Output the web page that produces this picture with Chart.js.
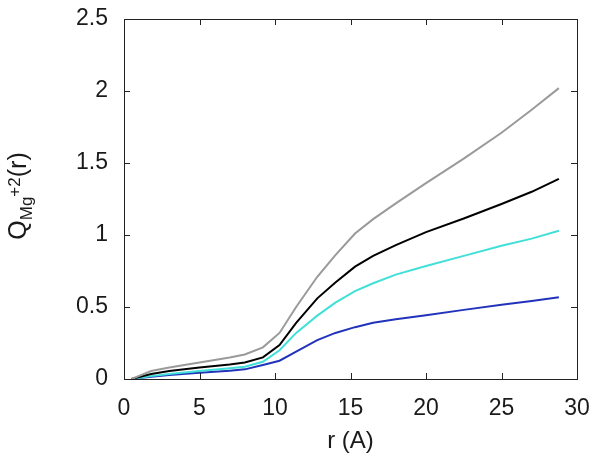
<!DOCTYPE html>
<html>
<head>
<meta charset="utf-8">
<script src="https://cdn.jsdelivr.net/npm/chart.js@4"></script>
<style>
  html, body { margin: 0; padding: 0; background: #fff; }
  #wrap { width: 600px; height: 463px; position: relative; }
</style>
</head>
<body>
<div id="wrap"><canvas id="chargeChart"></canvas></div>
<script>
// r values (Angstrom) shared by all curves
var rValues = [0.5, 1.8, 3, 5, 7, 8, 9.2, 10.3, 11.4, 12.8, 14, 15.3, 16.5, 18, 20, 22.5, 25, 27, 28.8];

// integrated charge curves
var grayQ  = [0, 0.055, 0.08, 0.115, 0.15, 0.17, 0.22, 0.32, 0.50, 0.71, 0.86, 1.01, 1.11, 1.22, 1.36, 1.53, 1.71, 1.87, 2.02];
var blackQ = [0, 0.035, 0.055, 0.08, 0.10, 0.115, 0.15, 0.236, 0.39, 0.56, 0.67, 0.78, 0.855, 0.93, 1.02, 1.115, 1.215, 1.30, 1.39];
var cyanQ  = [0, 0.02, 0.035, 0.055, 0.075, 0.085, 0.12, 0.20, 0.32, 0.44, 0.53, 0.61, 0.665, 0.725, 0.785, 0.855, 0.925, 0.975, 1.03];
var blueQ  = [0, 0.016, 0.028, 0.044, 0.058, 0.067, 0.097, 0.127, 0.19, 0.27, 0.32, 0.36, 0.39, 0.415, 0.443, 0.48, 0.515, 0.542, 0.567];

var xTicks = [0, 5, 10, 15, 20, 25, 30];
var yTicks = [0, 0.5, 1, 1.5, 2, 2.5];

var fontFamily = '"Liberation Sans", Arial, sans-serif';
var textColor = '#1a1a1a';

function toPoints(ys) {
    var pts = [];
    for (var i = 0; i < rValues.length; i++) {
        pts.push({x: rValues[i], y: ys[i]});
    }
    return pts;
}

function lineSet(ys, color) {
    return {
        data: toPoints(ys),
        borderColor: color,
        borderWidth: 2,
        pointRadius: 0,
        fill: false,
        tension: 0
    };
}

// gnuplot style frame with inward ticks + the y title with sub/superscript
var framePlugin = {
    id: 'frame',
    afterDraw: function(chart) {
        var ctx = chart.ctx;
        var a = chart.chartArea;
        var xs = chart.scales.x, ys = chart.scales.y;
        var tl = 6;
        ctx.save();
        ctx.strokeStyle = '#222';
        ctx.lineWidth = 1;
        ctx.strokeRect(a.left + 0.5, a.top + 0.5, a.right - a.left, a.bottom - a.top);
        ctx.beginPath();
        xTicks.forEach(function(v) {
            var px = Math.round(xs.getPixelForValue(v)) + 0.5;
            ctx.moveTo(px, a.bottom); ctx.lineTo(px, a.bottom - tl);
            ctx.moveTo(px, a.top); ctx.lineTo(px, a.top + tl);
        });
        yTicks.forEach(function(v) {
            var py = Math.round(ys.getPixelForValue(v)) + 0.5;
            ctx.moveTo(a.left, py); ctx.lineTo(a.left + tl, py);
            ctx.moveTo(a.right, py); ctx.lineTo(a.right - tl, py);
        });
        ctx.stroke();

        // y axis title: Q_{Mg}^{+2}(r)
        var big = '25px ' + fontFamily;
        var small = '17px ' + fontFamily;
        ctx.fillStyle = textColor;
        ctx.textBaseline = 'alphabetic';
        ctx.textAlign = 'left';
        ctx.font = big;  var wQ = ctx.measureText('Q').width;
        var wP = ctx.measureText('(r)').width;
        ctx.font = small; var wSub = ctx.measureText('Mg').width;
        var wSup = ctx.measureText('+2').width;
        var total = wQ + wSub + wSup + wP;
        ctx.translate(26, 196);
        ctx.rotate(-Math.PI / 2);
        var x0 = -total / 2;
        ctx.font = big; ctx.fillText('Q', x0, 0);
        ctx.font = small;
        ctx.fillText('Mg', x0 + wQ, 6);
        ctx.fillText('+2', x0 + wQ + wSub, -6);
        ctx.font = big; ctx.fillText('(r)', x0 + wQ + wSub + wSup, 0);
        ctx.restore();
    }
};

var ctx = document.getElementById('chargeChart').getContext('2d');
var chargeChart = new Chart(ctx, {
    type: 'line',
    data: {
        datasets: [
            lineSet(grayQ, '#9a9a9a'),
            lineSet(blackQ, '#000000'),
            lineSet(cyanQ, '#40e0d8'),
            lineSet(blueQ, '#2233bb')
        ]
    },
    options: {
        responsive: true,
        maintainAspectRatio: false,
        animation: false,
        layout: { padding: { top: 19, right: 23, left: 0, bottom: 0 } },
        plugins: {
            legend: { display: false },
            tooltip: { enabled: false }
        },
        scales: {
            x: {
                type: 'linear',
                min: 0, max: 30,
                afterFit: function(scale) {
                    scale.height = 84;
                    scale.paddingLeft = 0; scale.paddingRight = 0;
                },
                afterBuildTicks: function(scale) {
                    scale.ticks = xTicks.map(function(v) { return {value: v}; });
                },
                grid: { drawOnChartArea: false, drawTicks: false },
                border: { display: false },
                ticks: {
                    padding: 16,
                    color: textColor,
                    callback: function(v) { return String(v); },
                    font: { family: fontFamily, size: 23 }
                },
                title: {
                    display: true,
                    text: 'r (A)',
                    color: textColor,
                    padding: { top: 4, bottom: 7 },
                    font: { family: fontFamily, size: 24 }
                }
            },
            y: {
                min: 0, max: 2.5,
                afterFit: function(scale) {
                    scale.width = 124;
                    scale.paddingTop = 0; scale.paddingBottom = 0;
                },
                afterBuildTicks: function(scale) {
                    scale.ticks = yTicks.map(function(v) { return {value: v}; });
                },
                grid: { drawOnChartArea: false, drawTicks: false },
                border: { display: false },
                ticks: {
                    padding: 16,
                    color: textColor,
                    callback: function(v) { return String(v); },
                    font: { family: fontFamily, size: 23 }
                }
            }
        }
    },
    plugins: [framePlugin]
});
</script>
</body>
</html>
